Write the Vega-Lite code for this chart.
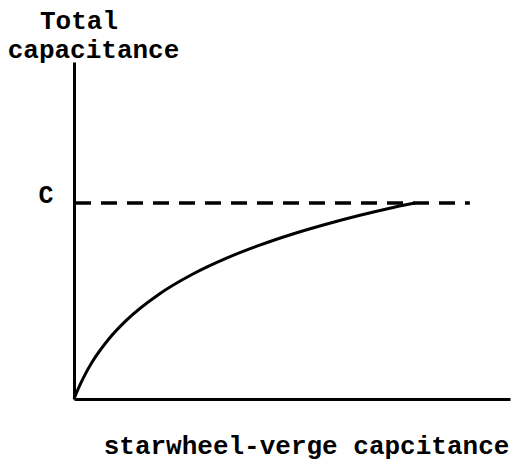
{
  "$schema": "https://vega.github.io/schema/vega-lite/v6.json",
  "width": 436,
  "height": 337,
  "autosize": {"type": "none"},
  "padding": {"left": 74, "top": 62, "right": 1, "bottom": 66},
  "background": "white",
  "title": {
    "text": "Total",
    "anchor": "start",
    "frame": "group",
    "dx": -34,
    "dy": 19,
    "offset": 0,
    "baseline": "alphabetic",
    "font": "Liberation Mono",
    "fontWeight": "bold",
    "fontSize": 26,
    "color": "black"
  },
  "config": {
    "view": {"stroke": null},
    "axis": {
      "grid": false,
      "ticks": false,
      "domainColor": "black",
      "domainWidth": 3,
      "labelFont": "Liberation Mono",
      "labelFontWeight": "bold",
      "labelFontSize": 25,
      "labelColor": "black",
      "titleFont": "Liberation Mono",
      "titleFontWeight": "bold",
      "titleFontSize": 26,
      "titleColor": "black"
    }
  },
  "datasets": {
    "curve": [
      {"x": 0, "y": 0},
      {"x": 0.92, "y": 2.9},
      {"x": 2.29, "y": 6.65},
      {"x": 4.13, "y": 10.89},
      {"x": 8.03, "y": 17.89},
      {"x": 11.93, "y": 23.26},
      {"x": 19.5, "y": 31.1},
      {"x": 27.06, "y": 36.94},
      {"x": 34.86, "y": 41.72},
      {"x": 42.43, "y": 45.58},
      {"x": 50.0, "y": 48.9},
      {"x": 57.8, "y": 51.87},
      {"x": 65.37, "y": 54.45},
      {"x": 72.94, "y": 56.77},
      {"x": 76.15, "y": 57.66},
      {"x": 78.2, "y": 58.16}
    ],
    "limit": [
      {"x": 0.23, "y": 58.16},
      {"x": 90.8, "y": 58.16}
    ]
  },
  "layer": [
    {
      "data": {"name": "limit"},
      "mark": {"type": "line", "color": "black", "strokeWidth": 3.5, "strokeDash": [16, 10]},
      "encoding": {
        "x": {
          "field": "x", "type": "quantitative",
          "scale": {"domain": [0, 100], "nice": false, "zero": false},
          "axis": {"labels": false, "title": "starwheel-verge capcitance", "titleX": 232, "titleY": 54, "titleAlign": "center", "titleBaseline": "alphabetic"}
        },
        "y": {
          "field": "y", "type": "quantitative",
          "scale": {"domain": [0, 100], "nice": false, "zero": false},
          "axis": {
            "values": [58.16],
            "labelExpr": "'C'",
            "labelPadding": 21,
            "labelBaseline": "alphabetic",
            "labelOffset": -1,
            "title": "capacitance",
            "titleAngle": 0,
            "titleX": 19,
            "titleY": -5,
            "titleAlign": "center",
            "titleBaseline": "alphabetic"
          }
        }
      }
    },
    {
      "data": {"name": "curve"},
      "mark": {"type": "line", "color": "black", "strokeWidth": 3, "interpolate": "monotone"},
      "encoding": {
        "x": {"field": "x", "type": "quantitative"},
        "y": {"field": "y", "type": "quantitative"}
      }
    }
  ]
}
